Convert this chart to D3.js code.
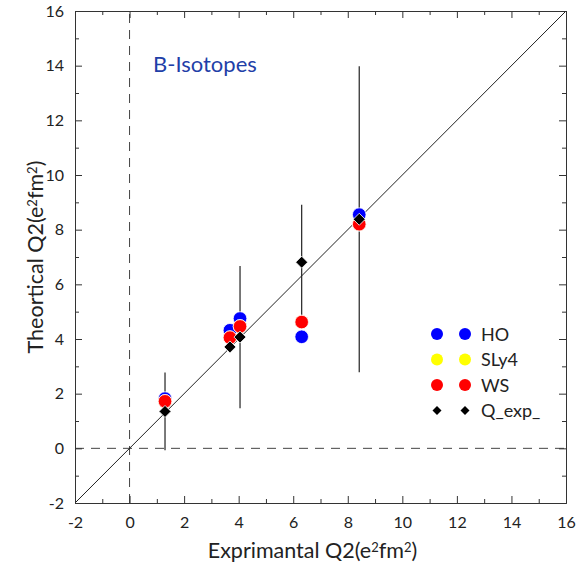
<!DOCTYPE html>
<html>
<head>
<meta charset="utf-8">
<script src="https://cdn.jsdelivr.net/npm/d3@7"></script>
<style>
  body { margin: 0; background: #fff; }
  svg text { font-family: Lato, "Open Sans", sans-serif; fill: #222; }
</style>
</head>
<body>
<div id="chart"></div>
<script>
'use strict';

// experimental Q2 (x) for each isotope and the plotted Q_exp value
var expX = [1.30, 3.68, 4.05, 6.31, 8.42];
var qExp = [1.35, 3.71, 4.07, 6.81, 8.38];
var qExpErr = [1.42, 0.15, 2.6, 2.1, 5.6];
// theoretical values
var hoVals = [1.82, 4.32, 4.75, 4.08, 8.55];
var sly4Vals = [1.72, 4.05, 4.46, 4.62, 8.2];
var wsVals = [1.72, 4.05, 4.46, 4.62, 8.2];

var majorTicks = [-2, 0, 2, 4, 6, 8, 10, 12, 14, 16];
var minorTicks = [-1, 1, 3, 5, 7, 9, 11, 13, 15];

var legendItems = [
  { name: 'HO', color: '#0000ff', shape: 'circle' },
  { name: 'SLy4', color: '#ffff00', shape: 'circle' },
  { name: 'WS', color: '#ff0000', shape: 'circle' },
  { name: 'Q_exp_', color: '#000000', shape: 'diamond' }
];

var W = 587, H = 570;
var m = { left: 75, top: 11, right: 21, bottom: 67 };

var svg = d3.select('#chart').append('svg')
  .attr('width', W)
  .attr('height', H);

var x = d3.scaleLinear().domain([-2, 16]).range([m.left, W - m.right]);
var y = d3.scaleLinear().domain([-2, 16]).range([H - m.bottom, m.top]);

var axisColor = '#333';

// dashed zero lines
svg.append('line')
  .attr('x1', x(0)).attr('x2', x(0))
  .attr('y1', y(-2)).attr('y2', y(16))
  .attr('stroke', '#444').attr('stroke-dasharray', '9,7');
svg.append('line')
  .attr('x1', x(-2)).attr('x2', x(16))
  .attr('y1', y(0)).attr('y2', y(0))
  .attr('stroke', '#444').attr('stroke-dasharray', '9,7');

// y = x reference line
svg.append('line')
  .attr('x1', x(-2)).attr('y1', y(-2))
  .attr('x2', x(16)).attr('y2', y(16))
  .attr('stroke', '#222').attr('stroke-width', 1);

// axes with inside ticks
function drawAxis(axisFn, scale, transform, size, values, labels) {
  var a = axisFn(scale).tickValues(values).tickSize(size).tickSizeOuter(0);
  a.tickFormat(labels ? function(d) { return String(d); } : '');
  var g = svg.append('g').attr('transform', transform).call(a);
  g.selectAll('line').attr('stroke', axisColor);
  g.select('.domain').attr('stroke', axisColor);
  return g;
}

var bottomY = y(-2), topY = y(16), leftX = x(-2), rightX = x(16);

var xb = drawAxis(d3.axisBottom, x, 'translate(0,' + bottomY + ')', -7, majorTicks, true);
drawAxis(d3.axisBottom, x, 'translate(0,' + bottomY + ')', -4, minorTicks, false);
drawAxis(d3.axisTop, x, 'translate(0,' + topY + ')', -7, majorTicks, false);
drawAxis(d3.axisTop, x, 'translate(0,' + topY + ')', -4, minorTicks, false);
var yl = drawAxis(d3.axisLeft, y, 'translate(' + leftX + ',0)', -7, majorTicks, true);
drawAxis(d3.axisLeft, y, 'translate(' + leftX + ',0)', -4, minorTicks, false);
drawAxis(d3.axisRight, y, 'translate(' + rightX + ',0)', -7, majorTicks, false);
drawAxis(d3.axisRight, y, 'translate(' + rightX + ',0)', -4, minorTicks, false);

xb.selectAll('text')
  .attr('y', 14)
  .attr('font-size', 16)
  .style('font-family', 'Lato, sans-serif')
  .attr('fill', '#222');
yl.selectAll('text')
  .attr('x', -11)
  .attr('font-size', 16)
  .style('font-family', 'Lato, sans-serif')
  .attr('fill', '#222');

// axis titles
function titleWithSup(t, pre) {
  t.append('tspan').text(pre + '(e');
  t.append('tspan').attr('font-size', 13).attr('dy', -6).text('2');
  t.append('tspan').attr('dy', 6).text('fm');
  t.append('tspan').attr('font-size', 13).attr('dy', -6).text('2');
  t.append('tspan').attr('dy', 6).text(')');
}

var xt = svg.append('text')
  .attr('x', (leftX + rightX) / 2 - 8)
  .attr('y', 558)
  .attr('text-anchor', 'middle')
  .attr('font-size', 21.5);
titleWithSup(xt, 'Exprimantal Q2');

var yt = svg.append('text')
  .attr('transform', 'translate(43,' + ((topY + bottomY) / 2) + ') rotate(-90)')
  .attr('text-anchor', 'middle')
  .attr('font-size', 21.5);
titleWithSup(yt, 'Theortical Q2');

svg.append('text')
  .attr('x', 153).attr('y', 72)
  .attr('font-size', 22)
  .style('fill', '#1f3fa8')
  .text('B-Isotopes');

// error bars
svg.append('g').selectAll('line')
  .data(qExp)
  .enter().append('line')
  .attr('x1', function(d, i) { return x(expX[i]); })
  .attr('x2', function(d, i) { return x(expX[i]); })
  .attr('y1', function(d, i) { return y(d - qExpErr[i]); })
  .attr('y2', function(d, i) { return y(d + qExpErr[i]); })
  .attr('stroke', '#222').attr('stroke-width', 1.2);

function drawCircles(vals, color) {
  svg.append('g').selectAll('circle')
    .data(vals)
    .enter().append('circle')
    .attr('cx', function(d, i) { return x(expX[i]); })
    .attr('cy', function(d) { return y(d); })
    .attr('r', 6.8)
    .attr('fill', color)
    .attr('stroke', '#fff').attr('stroke-width', 0.8);
}

drawCircles(hoVals, legendItems[0].color);
drawCircles(sly4Vals, legendItems[1].color);
drawCircles(wsVals, legendItems[2].color);

svg.append('g').selectAll('path')
  .data(qExp)
  .enter().append('path')
  .attr('d', 'M0,-6L6,0L0,6L-6,0Z')
  .attr('transform', function(d, i) { return 'translate(' + x(expX[i]) + ',' + y(d) + ')'; })
  .attr('fill', '#000')
  .attr('stroke', '#fff').attr('stroke-width', 0.8);

// legend
var leg = svg.append('g').attr('transform', 'translate(437,334)');
legendItems.forEach(function(item, i) {
  var row = leg.append('g').attr('transform', 'translate(0,' + (i * 25.5) + ')');
  [0, 28].forEach(function(dx) {
    if (item.shape === 'circle') {
      row.append('circle').attr('cx', dx).attr('cy', 0).attr('r', 6).attr('fill', item.color);
    } else {
      row.append('path').attr('d', 'M0,-4.5L4.5,0L0,4.5L-4.5,0Z')
        .attr('transform', 'translate(' + dx + ',0)')
        .attr('fill', item.color);
    }
  });
  row.append('text')
    .attr('x', 44).attr('y', 6.5)
    .attr('font-size', 18)
    .text(item.name);
});
</script>
</body>
</html>
